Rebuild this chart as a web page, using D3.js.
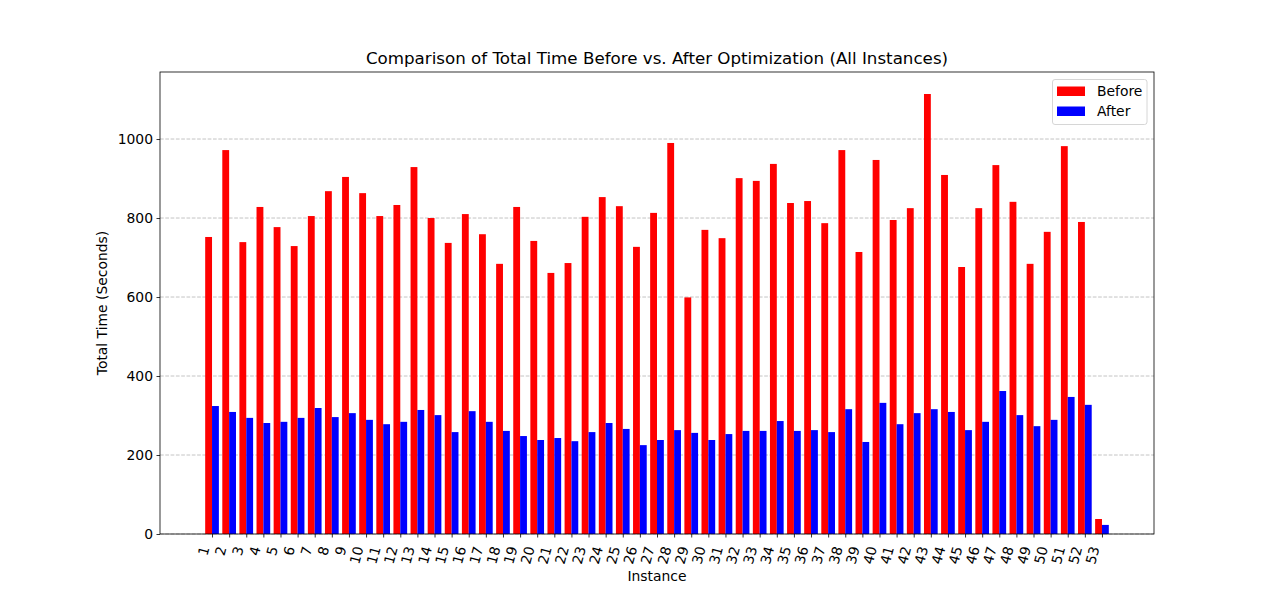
<!DOCTYPE html>
<html>
<head>
<meta charset="utf-8">
<script src="https://cdn.jsdelivr.net/npm/d3@7"></script>
<style>
  body { margin: 0; background: #fff; }
  svg { display: block; font-family: "DejaVu Sans", sans-serif; }
</style>
</head>
<body>
<svg id="chart" width="1282" height="600"></svg>
<script>
const instances = d3.range(1, 54).map(String);
const before = [752, 972, 739, 828, 777, 729, 805, 868, 904, 863,
                805, 833, 929, 800, 737, 810, 759, 684, 828, 742,
                661, 686, 803, 853, 830, 727, 813, 990, 599, 770,
                749, 901, 894, 937, 838, 843, 787, 972, 714, 947,
                795, 825, 1114, 909, 676, 825, 934, 841, 684, 765,
                982, 790, 38];
const after = [324, 309, 294, 281, 284, 294, 319, 296, 306, 289,
               278, 284, 314, 301, 258, 311, 284, 261, 248, 238,
               243, 235, 258, 281, 266, 225, 238, 263, 256, 238,
               253, 261, 261, 286, 261, 263, 258, 316, 233, 332,
               278, 306, 316, 309, 263, 284, 362, 301, 273, 289,
               347, 327, 23];
const yTicks = [0, 200, 400, 600, 800, 1000];
const seriesNames = ["Before", "After"];
const seriesColors = ["#ff0000", "#0000ff"];

const svg = d3.select("#chart");
const L = 160, R = 1154, T = 72, B = 534;
const n = instances.length;
const barW = 0.4;
const xMin = -barW, xMax = (n - 1) + barW;
const xPad = (xMax - xMin) * 0.05;
const x = d3.scaleLinear().domain([xMin - xPad, xMax + xPad]).range([L, R]);
const yMax = d3.max(before.concat(after)) * 1.05;
const y = d3.scaleLinear().domain([0, yMax]).range([B, T]);

// grid
svg.append("g").selectAll("line").data(yTicks).join("line")
  .attr("x1", L).attr("x2", R)
  .attr("y1", d => y(d)).attr("y2", d => y(d))
  .attr("stroke", "#b0b0b0").attr("stroke-opacity", 0.75)
  .attr("stroke-width", 1).attr("stroke-dasharray", "3.7,1.6");

// bars
const bars = svg.append("g");
bars.selectAll("rect.before").data(before).join("rect")
  .attr("class", "before")
  .attr("x", (d, i) => x(i - barW))
  .attr("width", (d, i) => x(i) - x(i - barW))
  .attr("y", d => y(d)).attr("height", d => B - y(d))
  .attr("fill", seriesColors[0]);
bars.selectAll("rect.after").data(after).join("rect")
  .attr("class", "after")
  .attr("x", (d, i) => x(i))
  .attr("width", (d, i) => x(i + barW) - x(i))
  .attr("y", d => y(d)).attr("height", d => B - y(d))
  .attr("fill", seriesColors[1]);

// frame
svg.append("rect").attr("x", L).attr("y", T).attr("width", R - L).attr("height", B - T)
  .attr("fill", "none").attr("stroke", "#000").attr("stroke-width", 0.8);

// y axis
const yAxis = d3.axisLeft(y).tickValues(yTicks).tickSize(3.5).tickPadding(3.5).tickFormat(d3.format("d"));
const gy = svg.append("g").attr("transform", `translate(${L},0)`).call(yAxis);
gy.select(".domain").remove();
gy.selectAll(".tick line").attr("stroke", "#000").attr("stroke-width", 0.8);
gy.selectAll(".tick text").attr("font-size", "13.9px").attr("fill", "#000")
  .attr("font-family", "DejaVu Sans");

// x axis
const xAxis = d3.axisBottom(x).tickValues(d3.range(n)).tickSize(3.5)
  .tickFormat(i => instances[i]);
const gx = svg.append("g").attr("transform", `translate(0,${B})`).call(xAxis);
gx.select(".domain").remove();
gx.selectAll(".tick line").attr("stroke", "#000").attr("stroke-width", 0.8);
gx.selectAll(".tick text")
  .attr("font-size", "13.9px").attr("fill", "#000").attr("font-family", "DejaVu Sans")
  .attr("text-anchor", "end")
  .attr("dy", null)
  .attr("y", 0)
  .attr("transform", "translate(-3,14) rotate(-75)");

// titles
svg.append("text").attr("x", (L + R) / 2).attr("y", 64).attr("text-anchor", "middle")
  .attr("font-size", "16.7px").text("Comparison of Total Time Before vs. After Optimization (All Instances)");
svg.append("text").attr("x", (L + R) / 2).attr("y", 581).attr("text-anchor", "middle")
  .attr("font-size", "13.9px").text("Instance");
svg.append("text").attr("transform", `translate(107,${(T + B) / 2}) rotate(-90)`)
  .attr("text-anchor", "middle").attr("font-size", "13.9px").text("Total Time (Seconds)");

// legend
const lg = svg.append("g");
lg.append("rect").attr("x", 1052.5).attr("y", 79.5).attr("width", 94.5).attr("height", 45)
  .attr("rx", 2.5).attr("fill", "#fff").attr("fill-opacity", 0.8)
  .attr("stroke", "#cccccc").attr("stroke-width", 0.8);
seriesNames.forEach((s, i) => {
  lg.append("rect").attr("x", 1057).attr("y", 86.5 + i * 20).attr("width", 28).attr("height", 9.5)
    .attr("fill", seriesColors[i]);
  lg.append("text").attr("x", 1097).attr("y", 96 + i * 20).attr("font-size", "13.9px").text(s);
});
</script>
</body>
</html>
